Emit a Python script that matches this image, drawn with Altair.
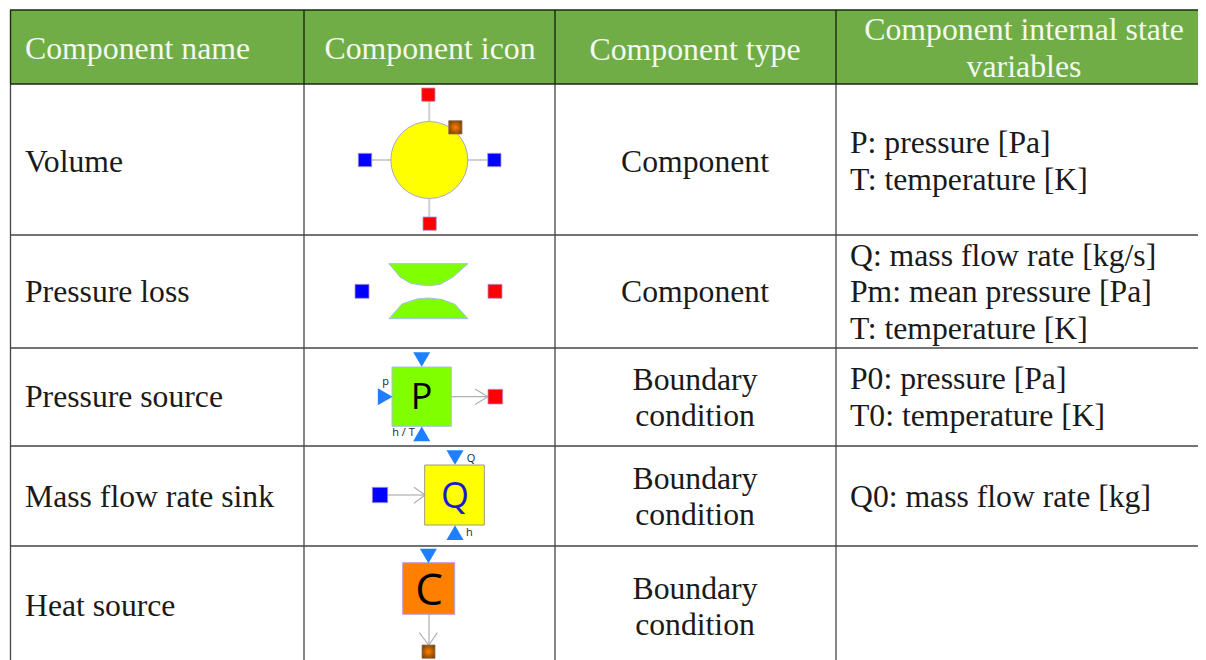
import altair as alt
import pandas as pd

# ---- table content ----
headers = ["Component name", "Component icon", "Component type", "Component internal state", "variables"]
names = ["Volume", "Pressure loss", "Pressure source", "Mass flow rate sink", "Heat source"]
types = ["Component", "Component", "Boundary", "condition", "Boundary", "condition", "Boundary", "condition"]
states = ["P: pressure [Pa]", "T: temperature [K]",
          "Q: mass flow rate [kg/s]", "Pm: mean pressure [Pa]", "T: temperature [K]",
          "P0: pressure [Pa]", "T0: temperature [K]",
          "Q0: mass flow rate [kg]"]
icon_letters = ["P", "Q", "C"]
port_labels = ["p", "h / T", "Q", "h"]

# ---- layout, in picture pixels ----
W, H = 1198, 660
SERIF = "Liberation Serif"
SANS = "Open Sans"
GREEN = "#70ad47"
RED, BLUE, LIME, YEL, ORG = "#ff0000", "#0000ff", "#80ff00", "#ffff00", "#ff8000"
TRI = "#1e80ff"

X = alt.X("x:Q", scale=alt.Scale(domain=[8, W], nice=False, zero=False), axis=None)
Y = alt.Y("y:Q", scale=alt.Scale(domain=[H, 8], nice=False, zero=False), axis=None)


def rects(rows, **kw):
    df = pd.DataFrame(rows, columns=["x", "y", "x2", "y2", "c"])
    return alt.Chart(df).mark_rect(**kw).encode(
        x=X, y=Y, x2="x2:Q", y2="y2:Q", fill=alt.Fill("c:N", scale=None))


def segs(rows, color, width):
    df = pd.DataFrame(rows, columns=["x", "y", "x2", "y2"])
    return alt.Chart(df).mark_rule(color=color, strokeWidth=width).encode(
        x=X, y=Y, x2="x2:Q", y2="y2:Q")


def texts(labels, xs, ys, size, font, color, align):
    df = pd.DataFrame({"t": labels, "x": xs, "y": ys})
    return alt.Chart(df).mark_text(font=font, fontSize=size, color=color, align=align,
                                   baseline="middle").encode(x=X, y=Y, text="t:N")


def tris(rows, shape):
    df = pd.DataFrame(rows, columns=["x", "y"])
    return alt.Chart(df).mark_point(shape=shape, filled=True, color=TRI, size=290, opacity=1).encode(x=X, y=Y)


def bow(xs, outer, inner):
    df = pd.DataFrame({"x": xs, "y": outer, "y2": inner})
    return alt.Chart(df).mark_area(color=LIME, stroke="#a8b8f0", strokeWidth=1, interpolate="linear",
                                   line=False).encode(x=X, y=Y, y2="y2:Q")


layers = []
# header band
layers.append(rects([(10, 10, W, 84, GREEN)]))
# grid
layers.append(segs([(10.5, 84, 10.5, H), (304, 84, 304, H), (555, 84, 555, H), (836, 84, 836, H),
                    (10, 235, W, 235), (10, 348, W, 348), (10, 446, W, 446), (10, 546, W, 546)],
                   "#444444", 1.3))
layers.append(segs([(10, 10, W, 10), (10, 84, W, 84), (10.5, 10, 10.5, 84),
                    (304, 10, 304, 84), (555, 10, 555, 84), (836, 10, 836, 84)],
                   "#1a2a10", 1.4))

# connectors
layers.append(segs([(429.3, 101, 429.3, 122), (429.3, 198, 429.3, 217), (425, 495, 388, 495), (429, 614, 429, 645)],
                   "#cfcfcf", 2))
layers.append(segs([(372, 160, 391, 160), (468, 160, 488, 160), (451, 396.7, 488, 396.7),
                    (488, 396.7, 475, 389), (488, 396.7, 475, 404.5),
                    (425, 495, 414, 487.3), (425, 495, 414, 503.3),
                    (428.7, 645, 419.3, 632.7), (429, 645, 437.3, 632.7)],
                   "#b0b0b0", 1.2))

# volume
circle = pd.DataFrame({"x": [429.3], "y": [160]})
layers.append(alt.Chart(circle).mark_point(shape="circle", filled=True, fill=YEL, stroke="#a8a8c8",
                                           strokeWidth=1, size=5929, opacity=1).encode(x=X, y=Y))
# bows
layers.append(bow([389, 400, 410, 420, 430, 440, 453, 468],
                  [263.7] * 8,
                  [263.7, 277, 283, 285, 285.5, 284.5, 277, 263.7]))
layers.append(bow([389, 402, 417, 428, 442, 455, 468],
                  [318.7] * 7,
                  [318.7, 304, 299, 298, 299.5, 304.3, 318.7]))

# icon boxes
layers.append(rects([(392, 367, 451.3, 426.3, LIME)], stroke="#b4b4f0", strokeWidth=1))
layers.append(rects([(424.7, 465, 484.3, 525, YEL)], stroke="#9a9a80", strokeWidth=1))
layers.append(rects([(402.7, 562.7, 454.7, 614.3, ORG)], stroke="#b4a0d8", strokeWidth=1))

# ports
layers.append(rects([(421.7, 88, 435, 101.3, RED), (423, 217, 436.3, 230.3, RED),
                     (488, 284.3, 502, 298.3, RED), (488, 389.3, 502.7, 404, RED),
                     (358.3, 153.3, 371.7, 166.7, BLUE), (487.7, 153.3, 501, 166.7, BLUE),
                     (355, 284.3, 369, 298.3, BLUE), (372.3, 487.3, 387.7, 502.7, BLUE)],
                    stroke="#b090d0", strokeWidth=0.8))
heat = {"gradient": "radial", "x1": 0.5, "y1": 0.5, "r1": 0, "x2": 0.5, "y2": 0.5, "r2": 0.65,
        "stops": [{"offset": 0, "color": "#ff8000"}, {"offset": 1, "color": "#6e3800"}]}
heat_df = pd.DataFrame([(448.7, 120.7, 462, 134), (422, 645, 435, 658.3)], columns=["x", "y", "x2", "y2"])
layers.append(alt.Chart(heat_df).mark_rect(fill=heat, stroke="#8a7a70", strokeWidth=0.8).encode(
    x=X, y=Y, x2="x2:Q", y2="y2:Q"))

layers.append(tris([(421.7, 359.5), (455, 457.5), (428.4, 556)], "triangle-down"))
layers.append(tris([(421.7, 433.8), (455, 532.7)], "triangle-up"))
layers.append(tris([(385.2, 396.7)], "triangle-right"))

# icon letters
layers.append(texts(icon_letters[:1], [421.7], [398], 36, SANS, "#000000", "center"))
layers.append(texts(icon_letters[1:2], [455], [497], 36, SANS, "#1a1ad0", "center"))
layers.append(texts(icon_letters[2:], [429], [592], 44, SANS, "#000000", "center"))
layers.append(texts(port_labels, [385.7, 403.5, 471, 469.3], [382, 433, 458.5, 533], 11, SANS, "#222222", "center"))

# table text
layers.append(texts(headers[:1], [25], [49], 31.8, SERIF, "#f4f8f0", "left"))
layers.append(texts(headers[1:], [430, 695, 1024, 1024], [49, 49.5, 30, 67], 31.8, SERIF, "#f4f8f0", "center"))
layers.append(texts(names, [25] * 5, [162, 292, 397, 497, 606], 31.7, SERIF, "#1a1a1a", "left"))
layers.append(texts(types, [695] * 8, [162, 292, 380, 416, 479, 515, 589, 625], 31.7, SERIF, "#1a1a1a", "center"))
layers.append(texts(states, [850] * 8, [143, 180, 256, 292, 329, 379, 416, 497], 31.7, SERIF, "#1a1a1a", "left"))

chart = alt.layer(*layers).properties(
    width=W - 8, height=H - 8, padding=0, autosize=alt.AutoSizeParams(type="none"),
    background="white"
).configure_view(stroke=None)

chart.save("out.html", embed_options={"renderer": "svg", "actions": False})
